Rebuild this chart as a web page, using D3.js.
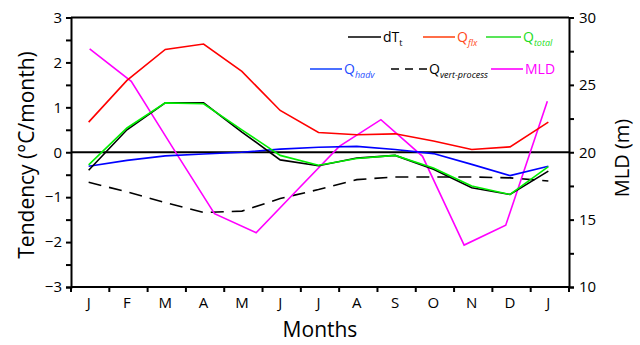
<!DOCTYPE html>
<html><head><meta charset="utf-8">
<script src="https://cdn.jsdelivr.net/npm/d3@7"></script>
<style>body{margin:0;background:#fff} svg text{font-family:"Open Sans","Noto Sans",sans-serif}</style>
</head><body><svg id="c" width="640" height="345"></svg>
<script>
const months = ["J","F","M","A","M","J","J","A","S","O","N","D","J"];
const dTt    = [-0.40, 0.50, 1.10, 1.10, 0.45, -0.17, -0.30, -0.13, -0.07, -0.38, -0.79, -0.94, -0.42];
const Qflx   = [0.67, 1.60, 2.29, 2.41, 1.80, 0.93, 0.44, 0.39, 0.41, 0.25, 0.06, 0.12, 0.67];
const Qtotal = [-0.28, 0.54, 1.10, 1.08, 0.50, -0.07, -0.29, -0.14, -0.07, -0.35, -0.75, -0.94, -0.32];
const Qhadv  = [-0.31, -0.18, -0.08, -0.04, 0.00, 0.07, 0.11, 0.13, 0.06, -0.03, -0.27, -0.52, -0.31];
const Qvert  = [-0.67, -0.88, -1.12, -1.34, -1.31, -1.03, -0.83, -0.61, -0.55, -0.55, -0.55, -0.57, -0.64];
const MLD    = [27.68, 25.26, 20.33, 15.44, 14.03, 17.24, 20.44, 22.42, 19.70, 13.11, 14.59, 23.78];
const leftTicks = [-3,-2,-1,0,1,2,3];
const rightTicks = [10,15,20,25,30];

const svg = d3.select("#c");
const L = 71, R = 569, T = 17.5, B = 287;
const band = d3.scaleBand().domain(d3.range(months.length)).range([L, R]).padding(0);
const x = i => band(i) + band.bandwidth()/2 - 1.5;
const xM = d3.scaleLinear().domain([0, MLD.length-1]).range([x(0)+1, x(months.length-1)-1]);
const y = d3.scaleLinear().domain([-3,3]).range([B, T]);
const y2 = d3.scaleLinear().domain([10,30]).range([B, T]);

// frame
svg.append("line").attr("x1",L).attr("x2",R).attr("y1",T).attr("y2",T).attr("stroke","#000").attr("stroke-width",2);
svg.append("line").attr("x1",L).attr("x2",R).attr("y1",B).attr("y2",B).attr("stroke","#000").attr("stroke-width",2);

// left axis
const gl = svg.append("g").attr("transform",`translate(${L},0)`)
  .call(d3.axisLeft(y).tickValues(d3.range(-3,3.01,0.5)).tickSize(5).tickPadding(4)
    .tickFormat(d => Number.isInteger(d) ? d3.format("d")(d) : ""));
gl.select(".domain").attr("stroke-width",2);
gl.selectAll(".tick line").attr("stroke-width",2);
gl.selectAll("text").attr("font-size",15).attr("fill","#000");

// right axis
const gr = svg.append("g").attr("transform",`translate(${R},0)`)
  .call(d3.axisRight(y2).tickValues(d3.range(10,30.01,2.5)).tickSize(5).tickPadding(5)
    .tickFormat(d => Number.isInteger(d) && d%5===0 ? d : ""));
gr.select(".domain").attr("stroke-width",2);
gr.selectAll(".tick line").attr("stroke-width",2);
gr.selectAll("text").attr("font-size",15).attr("fill","#000");

// bottom axis: ticks at band edges
const edges = d3.range(months.length+1).map(i => i < months.length ? band(i) : R);
svg.append("g").selectAll("line").data(edges).join("line")
  .attr("x1",d=>d).attr("x2",d=>d).attr("y1",B).attr("y2",B+5).attr("stroke","#000").attr("stroke-width",2);
svg.append("g").selectAll("text").data(months).join("text")
  .attr("x",(d,i)=>x(i)).attr("y",B+21).attr("text-anchor","middle").attr("font-size",15).text(d=>d);

// zero line
svg.append("line").attr("x1",L).attr("x2",R).attr("y1",y(0)).attr("y2",y(0)).attr("stroke","#000").attr("stroke-width",2);

// titles
svg.append("text").attr("x",L+(R-L)/2).attr("y",337).attr("text-anchor","middle").attr("font-size",21).text("Months");
svg.append("text").attr("transform",`translate(34,155) rotate(-90)`).attr("text-anchor","middle").attr("font-size",21).text("Tendency (°C/month)");
svg.append("text").attr("transform",`translate(629,158) rotate(-90)`).attr("text-anchor","middle").attr("font-size",20).text("MLD (m)");

// lines
const line = d3.line().x((d,i)=>x(i)).y(d=>y(d));
const lineM = d3.line().x((d,i)=>xM(i)).y(d=>y2(d));
function draw(data, color, gen, dash){
  svg.append("path").datum(data).attr("d",gen).attr("fill","none").attr("stroke",color)
    .attr("stroke-width",1.6).attr("stroke-dasharray",dash||null);
}
draw(Qvert, "#000", line, "13,8");
draw(MLD, "#ff00ff", lineM);
draw(Qflx, "#ff0000", line);
draw(Qhadv, "#0000ff", line);
draw(dTt, "#000", line);
draw(Qtotal, "#00ee00", line);

// legend
const leg = svg.append("g");
function item(x1, x2, yy, color, dash, main, sub, italic, textColor){
  leg.append("line").attr("x1",x1).attr("x2",x2).attr("y1",yy).attr("y2",yy)
    .attr("stroke",color).attr("stroke-width",1.6).attr("stroke-dasharray",dash||null);
  const t = leg.append("text").attr("x",x2+2).attr("y",yy+5).attr("font-size",14).attr("fill",textColor||color);
  t.append("tspan").text(main);
  if (sub) t.append("tspan").attr("dy",4).attr("font-size",9).attr("font-style",italic?"italic":"normal").text(sub);
}
item(348, 381, 37, "#000", null, "dT", "t", false);
item(423, 455, 37, "#ff4a1a", null, "Q", "flx", true);
item(486, 521, 37, "#22dd22", null, "Q", "total", true);
item(310, 342, 69, "#1f4dff", null, "Q", "hadv", true);
item(391, 427, 69, "#000", "8,6", "Q", "vert-process", true);
item(491, 523, 69, "#ff00ff", null, "MLD", null, false);
</script></body></html>
